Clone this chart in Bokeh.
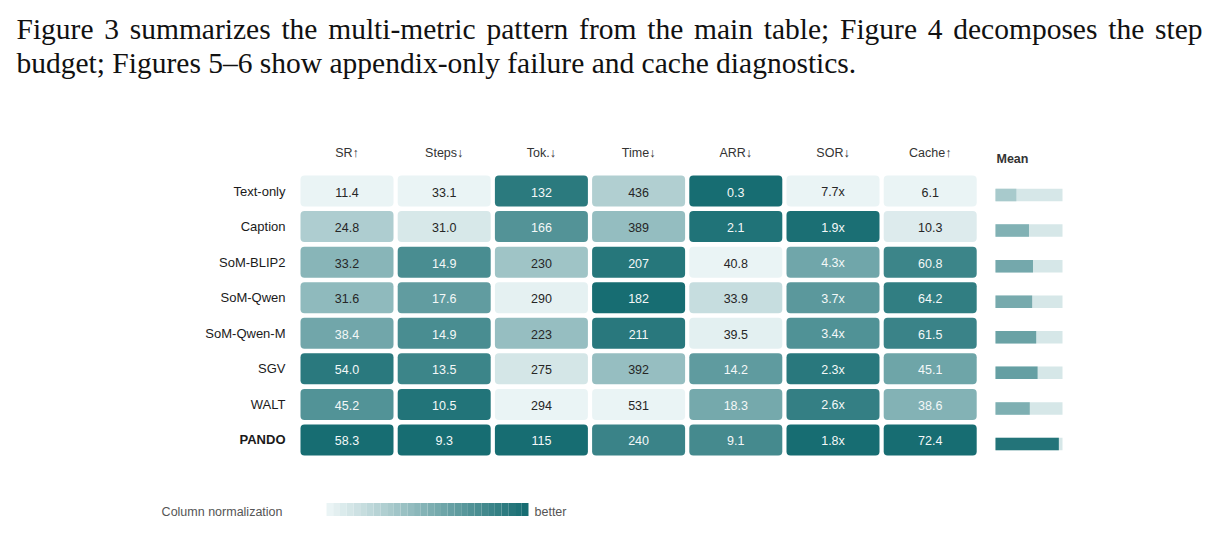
from bokeh.plotting import figure
from bokeh.models import Range1d, ColumnDataSource
from bokeh.core.properties import value
from bokeh.embed import file_html
from bokeh.resources import INLINE

# ---- data -------------------------------------------------------------
methods = ["Text-only", "Caption", "SoM-BLIP2", "SoM-Qwen", "SoM-Qwen-M", "SGV", "WALT", "PANDO"]
metrics = ["SR\u2191", "Steps\u2193", "Tok.\u2193", "Time\u2193", "ARR\u2193", "SOR\u2193", "Cache\u2191"]
higher_better = [True, False, False, False, False, False, True]

sr = [11.4, 24.8, 33.2, 31.6, 38.4, 54.0, 45.2, 58.3]
steps = [33.1, 31.0, 14.9, 17.6, 14.9, 13.5, 10.5, 9.3]
tok = [132, 166, 230, 290, 223, 275, 294, 115]
time_s = [436, 389, 207, 182, 211, 392, 531, 240]
arr = [0.3, 2.1, 40.8, 33.9, 39.5, 14.2, 18.3, 9.1]
sor = [7.7, 1.9, 4.3, 3.7, 3.4, 2.3, 2.6, 1.8]
cache = [6.1, 10.3, 60.8, 64.2, 61.5, 45.1, 38.6, 72.4]

columns = [sr, steps, tok, time_s, arr, sor, cache]
formats = ["{:.1f}", "{:.1f}", "{:.0f}", "{:.0f}", "{:.1f}", "{:.1f}x", "{:.1f}"]

# paragraph above the chart (first line is justified, second is flush left)
caption_line1 = "Figure 3 summarizes the multi-metric pattern from the main table; Figure 4 decomposes the step"
caption_line2 = "budget; Figures 5\u20136 show appendix-only failure and cache diagnostics."

# Times-compatible advance widths (1/1000 em) used to justify the first line
SERIF_W = {
    "F": 556, "i": 278, "g": 500, "u": 500, "r": 333, "e": 444, "3": 500, "4": 500,
    "s": 389, "m": 778, "a": 444, "z": 444, "t": 278, "h": 500, "-": 333, "l": 278,
    "c": 444, "p": 500, "n": 500, "o": 500, "f": 333, "b": 500, ";": 278, "d": 500,
}

# ---- colour ramp ------------------------------------------------------
LIGHT = (234, 244, 245)
DARK = (23, 109, 114)


def ramp(t):
    r = [round(a + (b - a) * t) for a, b in zip(LIGHT, DARK)]
    return "#{:02x}{:02x}{:02x}".format(*r)


# column-wise normalisation, oriented so 1 is always "better"
norm = []
for vals, hb in zip(columns, higher_better):
    lo, hi = min(vals), max(vals)
    if hb:
        norm.append([(v - lo) / (hi - lo) for v in vals])
    else:
        norm.append([(hi - v) / (hi - lo) for v in vals])

mean_score = [sum(norm[c][r] for c in range(len(columns))) / len(columns) for r in range(len(methods))]

# ---- layout (page pixels) --------------------------------------------
W, H = 1218, 544
COL0, COL_STEP, CELL_W = 346.5, 97.2, 93
ROW0, ROW_STEP, CELL_H = 190.5, 35.57, 31
LABEL_X = 285
HEADER_Y = 152
MEAN_X0, MEAN_W, MEAN_H, MEAN_DY = 995, 67, 12.5, 4
TEXT_L, TEXT_R = 16, 1202
SERIF_PX = 29.5
LINE1_Y, LINE2_Y = 28.5, 62.8

p = figure(width=W, height=H, x_range=Range1d(0, W), y_range=Range1d(H, 0),
           output_backend="svg", toolbar_location=None, min_border=0)
p.axis.visible = False
p.grid.visible = False
p.outline_line_color = None
p.background_fill_color = "white"
p.border_fill_color = "white"

serif = dict(text_font=value("Liberation Serif"), text_font_size=f"{SERIF_PX}px",
             text_color="#111111", text_baseline="alphabetic", text_align="left")

# justified first line: words placed with evenly stretched spaces
words = caption_line1.split(" ")
word_w = [sum(SERIF_W.get(ch, 500) for ch in w) / 1000 * SERIF_PX for w in words]
gap = (TEXT_R - TEXT_L - sum(word_w)) / (len(words) - 1)
xs, x = [], TEXT_L
for w in word_w:
    xs.append(x)
    x += w + gap
p.text(x=xs, y=[LINE1_Y] * len(words), text=words, **serif)
p.text(x=[TEXT_L], y=[LINE2_Y], text=[caption_line2], **serif)

# heatmap cells
cells = dict(left=[], right=[], top=[], bottom=[], color=[], label=[], x=[], y=[], tcolor=[])
for c, vals in enumerate(columns):
    for r, v in enumerate(vals):
        cx = COL0 + c * COL_STEP
        cy = ROW0 + r * ROW_STEP
        t = norm[c][r]
        cells["left"].append(cx - CELL_W / 2)
        cells["right"].append(cx + CELL_W / 2)
        cells["top"].append(cy - CELL_H / 2)
        cells["bottom"].append(cy + CELL_H / 2)
        cells["color"].append(ramp(t))
        cells["label"].append(formats[c].format(v))
        cells["x"].append(cx)
        cells["y"].append(cy + 1)
        cells["tcolor"].append("#f4f8f8" if t > 0.48 else "#262626")
src = ColumnDataSource(cells)
p.quad(left="left", right="right", top="top", bottom="bottom", fill_color="color",
       line_color=None, border_radius=4, source=src)
p.text(x="x", y="y", text="label", text_color="tcolor", text_font=value("Liberation Sans"),
       text_font_size="12.5px", text_align="center", text_baseline="middle", source=src)

# column headers
p.text(x=[COL0 + c * COL_STEP for c in range(len(metrics))], y=[HEADER_Y] * len(metrics),
       text=metrics, text_font=value("Liberation Sans"), text_font_size="12.5px",
       text_color="#333333", text_align="center", text_baseline="middle")
p.text(x=[MEAN_X0 + 1], y=[HEADER_Y + 6], text=["Mean"], text_font=value("Liberation Sans"),
       text_font_size="12.5px", text_font_style="bold", text_color="#333333",
       text_align="left", text_baseline="middle")

# row labels (the proposed method in bold)
for r, name in enumerate(methods):
    p.text(x=[LABEL_X], y=[ROW0 + r * ROW_STEP], text=[name], text_font=value("Liberation Sans"),
           text_font_size="13px", text_font_style="bold" if name == "PANDO" else "normal",
           text_color="#1a1a1a", text_align="right", text_baseline="middle")

# mean-score bars: light track + filled portion
ys = [ROW0 + r * ROW_STEP + MEAN_DY for r in range(len(methods))]
p.quad(left=[MEAN_X0] * len(methods), right=[MEAN_X0 + MEAN_W] * len(methods),
       top=[y - MEAN_H / 2 for y in ys], bottom=[y + MEAN_H / 2 for y in ys],
       fill_color="#d6e7e8", line_color=None)
p.quad(left=[MEAN_X0] * len(methods), right=[MEAN_X0 + MEAN_W * m for m in mean_score],
       top=[y - MEAN_H / 2 for y in ys], bottom=[y + MEAN_H / 2 for y in ys],
       fill_color=[ramp(m) for m in mean_score], line_color=None)

# colour legend
N_SEG = 30
LEG_X0, LEG_X1, LEG_Y = 326, 528, 509
seg_w = (LEG_X1 - LEG_X0) / N_SEG
p.quad(left=[LEG_X0 + i * seg_w for i in range(N_SEG)],
       right=[LEG_X0 + (i + 1) * seg_w for i in range(N_SEG)],
       top=[LEG_Y - 6.5] * N_SEG, bottom=[LEG_Y + 6.5] * N_SEG,
       fill_color=[ramp(i / (N_SEG - 1)) for i in range(N_SEG)], line_color=None)
p.text(x=[282], y=[LEG_Y + 2], text=["Column normalization"], text_font=value("Liberation Sans"),
       text_font_size="12.5px", text_color="#555555", text_align="right", text_baseline="middle")
p.text(x=[534], y=[LEG_Y + 2], text=["better"], text_font=value("Liberation Sans"),
       text_font_size="12.5px", text_color="#555555", text_align="left", text_baseline="middle")

open("out.html", "w").write(file_html(p, INLINE))
